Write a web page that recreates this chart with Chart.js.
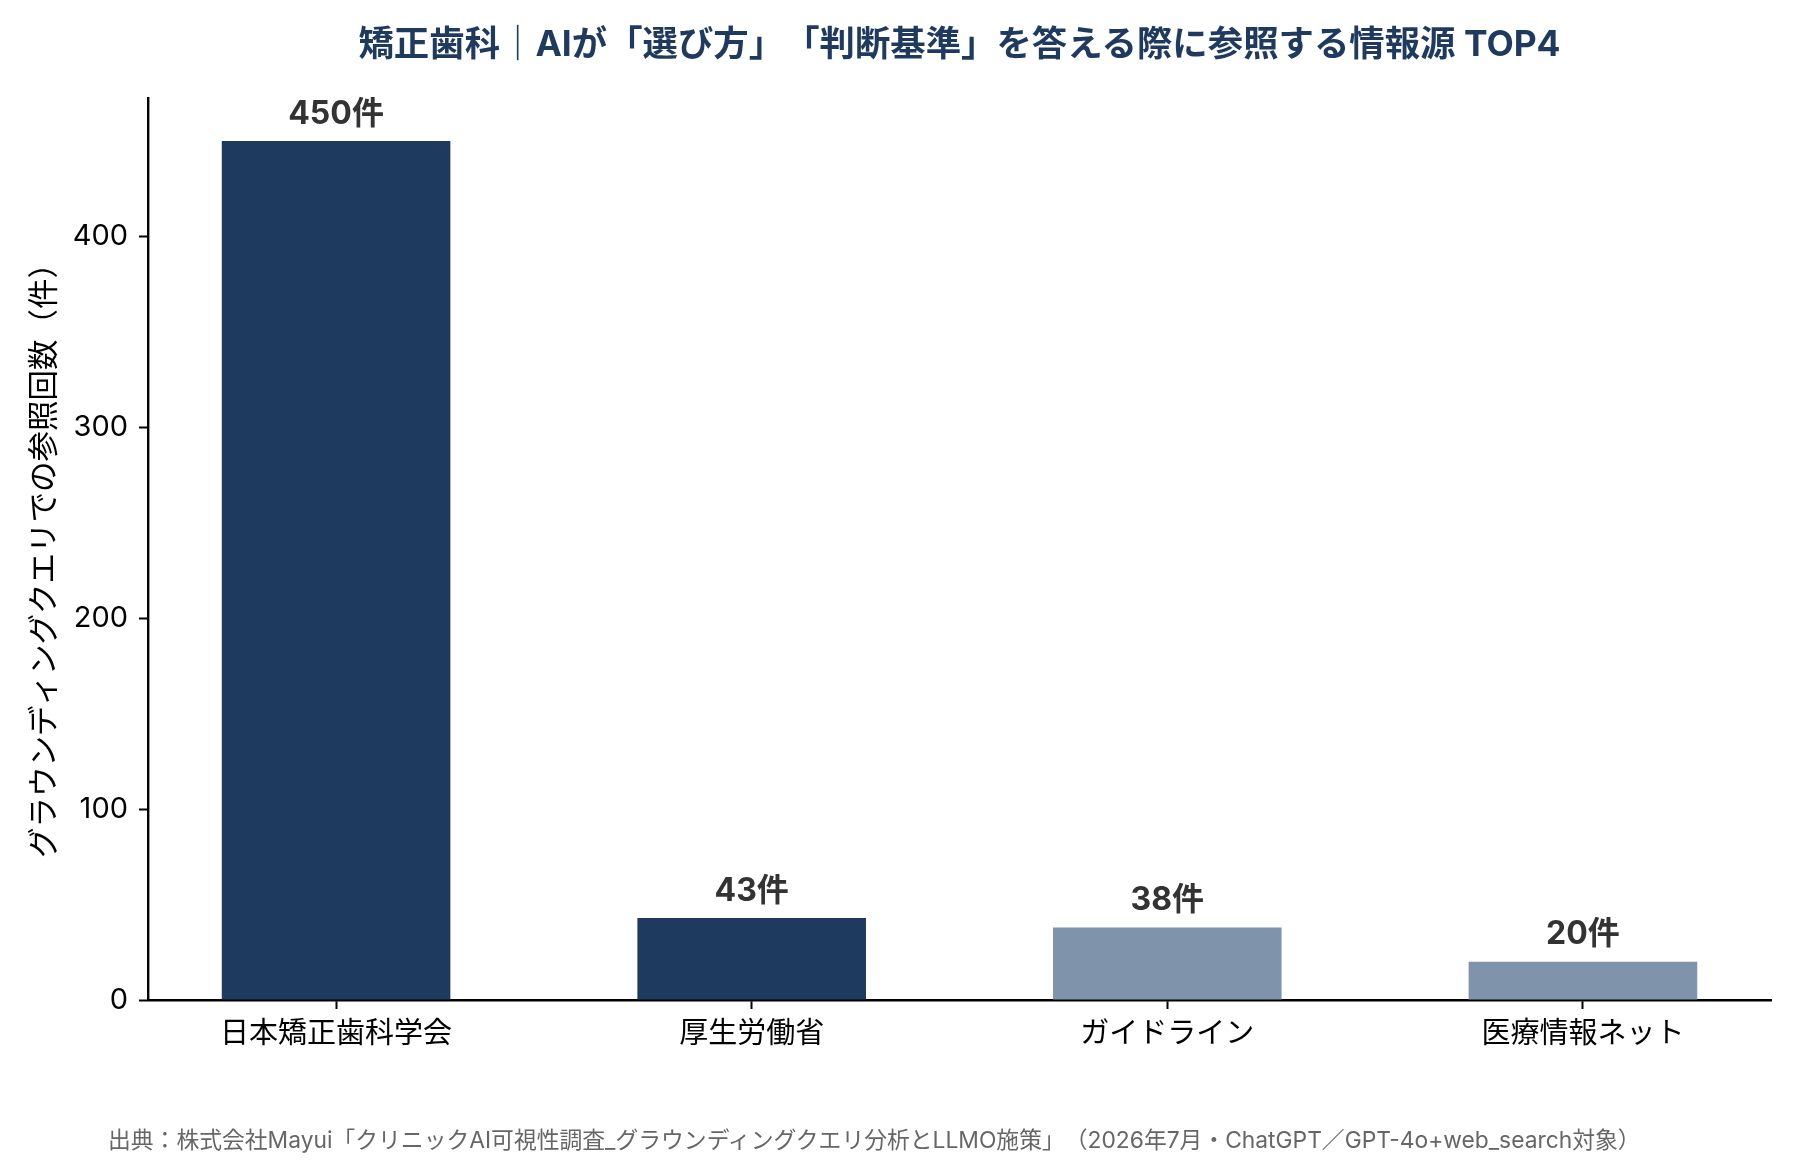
<!DOCTYPE html>
<html><head><meta charset="utf-8">
<script src="https://cdn.jsdelivr.net/npm/chart.js@4/dist/chart.umd.min.js"></script>
<style>
html,body{margin:0;padding:0;background:#fff}
#wrap{width:1800px;height:1160px;position:relative}
.ovl{position:absolute;white-space:nowrap;line-height:1;text-spacing-trim:space-all;font-family:"Inter","Noto Sans CJK JP",sans-serif;transform:translate(-50%,-50%)}
#title{font-weight:bold;font-size:35.4px;color:#1f3a5f}
#source{font-size:22.8px;color:#666666;transform:translate(0,-50%)}
</style>
</head><body><div id="wrap"><canvas id="c" width="1800" height="1160"></canvas>
<div id="title" class="ovl"></div><div id="source" class="ovl"></div></div>
<script>
const categories = ['日本矯正歯科学会', '厚生労働省', 'ガイドライン', '医療情報ネット'];
const counts = [450, 43, 38, 20];
const yTicks = [0, 100, 200, 300, 400];
const valueSuffix = '件';
const titleText = '矯正歯科｜AIが「選び方」「判断基準」を答える際に参照する情報源 TOP4';
const yAxisTitle = 'グラウンディングクエリでの参照回数（件）';
const sourceText = '出典：株式会社Mayui「クリニックAI可視性調査_グラウンディングクエリ分析とLLMO施策」（2026年7月・ChatGPT／GPT-4o+web_search対象）';

const NAVY = '#1f3a5f', LIGHT = '#7f93ab';
const barColors = [NAVY, NAVY, LIGHT, LIGHT];
const FONT = '"Inter", "Noto Sans CJK JP", sans-serif';

const points = counts.map((v, i) => ({x: i, y: v}));

const textPlugin = {
  id: 'texts',
  afterDraw(chart) {
    const ctx = chart.ctx, ca = chart.chartArea;
    ctx.save();
    const meta = chart.getDatasetMeta(0);
    ctx.fillStyle = '#333333';
    ctx.font = 'bold 32px ' + FONT;
    ctx.textAlign = 'center';
    ctx.textBaseline = 'middle';
    meta.data.forEach((bar, i) => {
      ctx.fillText(counts[i] + valueSuffix, bar.x, bar.y - 27);
    });
    // y axis title
    ctx.translate(45, (ca.top + ca.bottom) / 2 + 4);
    ctx.rotate(-Math.PI / 2);
    ctx.fillStyle = '#000';
    ctx.font = '30.5px ' + FONT;
    ctx.fillText(yAxisTitle, 0, 0);
    ctx.restore();
    const t = document.getElementById('title');
    t.textContent = titleText;
    t.style.left = ((ca.left + ca.right) / 2) + 'px';
    t.style.top = '44px';
    const s = document.getElementById('source');
    s.textContent = sourceText;
    s.style.left = '108px';
    s.style.top = '1140px';
  }
};

new Chart(document.getElementById('c'), {
  type: 'bar',
  data: {
    datasets: [{
      data: points,
      backgroundColor: barColors,
      borderWidth: 0,
      barPercentage: 0.55,
      categoryPercentage: 1.0
    }]
  },
  options: {
    responsive: false,
    animation: false,
    devicePixelRatio: 1,
    layout: {padding: {top: 98, right: 29, bottom: 0, left: 0}},
    plugins: {legend: {display: false}, tooltip: {enabled: false}},
    scales: {
      x: {
        type: 'linear',
        offset: false,
        min: -0.4525, max: 3.4525,
        afterBuildTicks(scale) { scale.ticks = categories.map((c, i) => ({value: i})); },
        afterFit(scale) { scale.height = 160; },
        ticks: {
          autoSkip: false, maxRotation: 0,
          callback: (v) => categories[v],
          color: '#000', font: {family: FONT, size: 29}, padding: 8
        },
        grid: {offset: false, drawOnChartArea: false, drawTicks: true, tickLength: 9, tickWidth: 2, tickColor: '#000'},
        border: {display: true, color: '#000', width: 2.4}
      },
      y: {
        min: 0, max: 472.5,
        afterBuildTicks(scale) { scale.ticks = yTicks.map(v => ({value: v})); },
        afterFit(scale) { scale.width = 148; },
        ticks: {color: '#000', font: {family: FONT, size: 29}, padding: 11},
        grid: {drawOnChartArea: false, drawTicks: true, tickLength: 9, tickWidth: 2, tickColor: '#000'},
        border: {display: true, color: '#000', width: 2.4}
      }
    }
  },
  plugins: [textPlugin]
});
</script></body></html>
